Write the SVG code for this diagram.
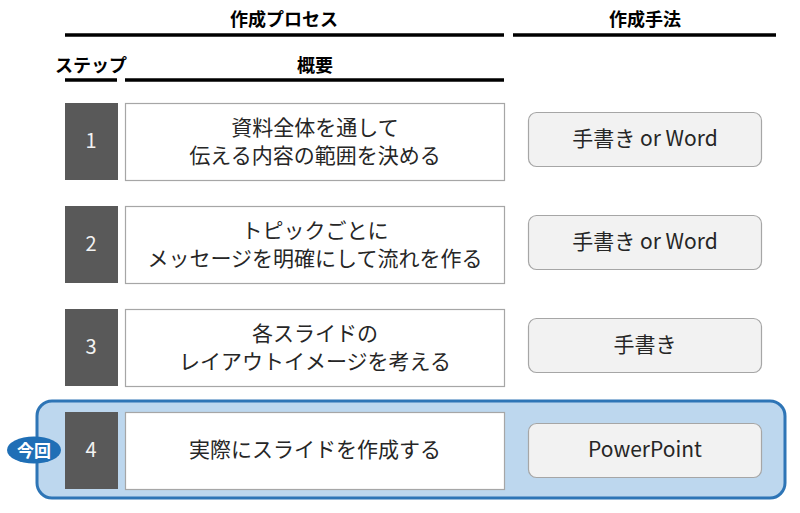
<svg xmlns="http://www.w3.org/2000/svg" width="800" height="513" viewBox="0 0 800 513">
<style>
text{font-family:"Noto Sans CJK JP","Noto Sans",sans-serif;}
.hd{font-size:18px;font-weight:bold;fill:#000;text-anchor:middle;}
.rule{stroke:#000;stroke-width:3.5;}
.num{fill:#595959;}
.numt{font-size:20px;fill:#f2f2f2;text-anchor:middle;}
.box{fill:#fff;stroke:#a6a6a6;stroke-width:1.2;}
.bt{font-size:21px;fill:#262626;text-anchor:middle;}
.tool{fill:#f2f2f2;stroke:#a6a6a6;stroke-width:1.2;}
.tt{font-size:21px;fill:#262626;text-anchor:middle;}
</style>
<rect width="800" height="513" fill="#fff"/>
<g id="headers">
<text class="hd" x="284" y="26">作成プロセス</text>
<text class="hd" x="645" y="26">作成手法</text>
<text class="hd" x="91" y="72">ステップ</text>
<text class="hd" x="315" y="72">概要</text>
<line class="rule" x1="65" y1="35" x2="504" y2="35"/>
<line class="rule" x1="513" y1="35" x2="776" y2="35"/>
<line class="rule" x1="65" y1="80" x2="117" y2="80"/>
<line class="rule" x1="125" y1="80" x2="504" y2="80"/>
</g>
<g id="highlight">
<rect x="37" y="401" width="748" height="97" rx="15" fill="#bdd7ee" stroke="#2e75b6" stroke-width="3"/>
</g>
<g id="connectors"></g>
<g id="step1">
<rect class="num" x="65" y="103" width="53" height="77"/>
<text class="numt" x="91" y="148">1</text>
<rect class="box" x="125.5" y="103.5" width="379" height="77"/>
<text class="bt" x="315" y="135">資料全体を通して</text>
<text class="bt" x="315" y="163">伝える内容の範囲を決める</text>
<rect class="tool" x="528.5" y="112.5" width="233" height="54" rx="8"/>
<text class="tt" x="645" y="146">手書き or Word</text>
</g>
<g id="step2">
<rect class="num" x="65" y="206" width="53" height="77"/>
<text class="numt" x="91" y="251">2</text>
<rect class="box" x="125.5" y="206.5" width="379" height="77"/>
<text class="bt" x="315" y="238">トピックごとに</text>
<text class="bt" x="315" y="266">メッセージを明確にして流れを作る</text>
<rect class="tool" x="528.5" y="215.5" width="233" height="54" rx="8"/>
<text class="tt" x="645" y="249">手書き or Word</text>
</g>
<g id="step3">
<rect class="num" x="65" y="309" width="53" height="77"/>
<text class="numt" x="91" y="354">3</text>
<rect class="box" x="125.5" y="309.5" width="379" height="77"/>
<text class="bt" x="315" y="341">各スライドの</text>
<text class="bt" x="315" y="369">レイアウトイメージを考える</text>
<rect class="tool" x="528.5" y="318.5" width="233" height="54" rx="8"/>
<text class="tt" x="645" y="352">手書き</text>
</g>
<g id="step4">
<rect class="num" x="65" y="412" width="53" height="77"/>
<text class="numt" x="91" y="457">4</text>
<rect class="box" x="125.5" y="412.5" width="379" height="77"/>
<text class="bt" x="315" y="457">実際にスライドを作成する</text>
<rect class="tool" x="528.5" y="423.5" width="233" height="54" rx="8"/>
<text class="tt" x="645" y="457">PowerPoint</text>
</g>
<g id="badge">
<ellipse cx="34" cy="450" rx="27" ry="13.5" fill="#1f6fb6"/>
<text x="34" y="456.5" font-size="17" font-weight="bold" fill="#fff" text-anchor="middle">今回</text>
</g>
</svg>
